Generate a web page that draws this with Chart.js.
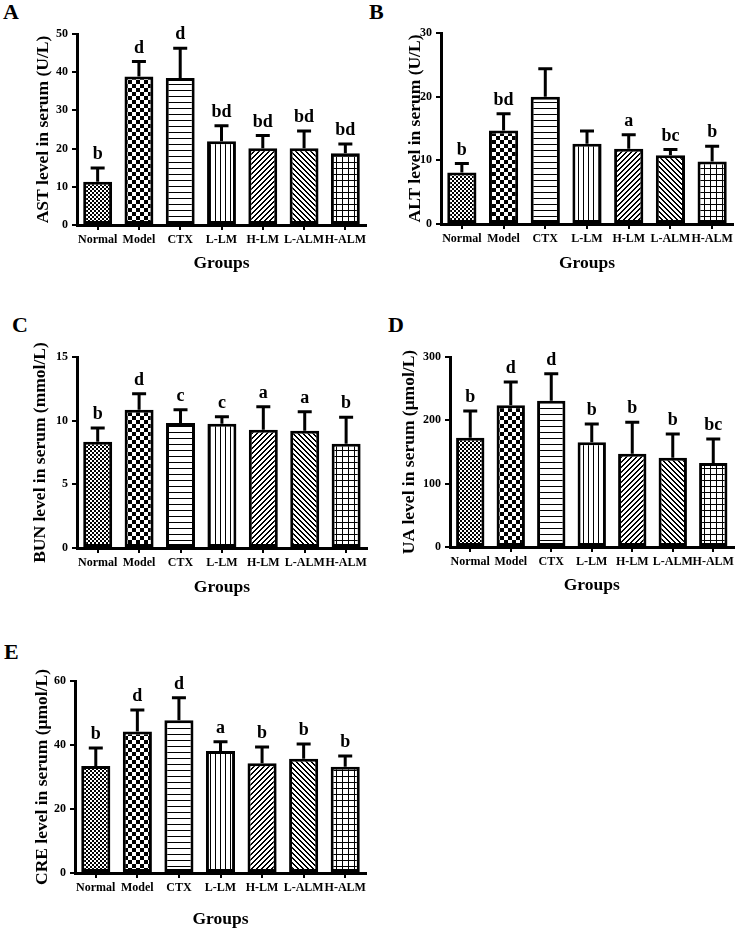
<!DOCTYPE html>
<html>
<head>
<meta charset="utf-8">
<script src="https://cdn.jsdelivr.net/npm/chart.js@4.4.0/dist/chart.umd.min.js"></script>
<style>
  body { margin: 0; background: #fff; }
  #page { position: relative; width: 737px; height: 930px; overflow: hidden; }
  #page canvas { position: absolute; }
  .tag { position: absolute; font: bold 22px "Liberation Serif", "Times New Roman", serif; line-height: 22px; color: #000; }
</style>
</head>
<body>
<div id="page">
  <div class="tag" style="left:3px;top:1px">A</div>
  <div class="tag" style="left:369px;top:1px">B</div>
  <div class="tag" style="left:12px;top:314px">C</div>
  <div class="tag" style="left:388px;top:314px">D</div>
  <div class="tag" style="left:4px;top:641px">E</div>
</div>
<script>
const groups = ['Normal', 'Model', 'CTX', 'L-LM', 'H-LM', 'L-ALM', 'H-ALM'];

// A - AST
const astMean = [11.3, 38.9, 38.5, 21.9, 20.1, 20.1, 18.8];
const astSD = [3.6, 3.9, 7.8, 4.1, 3.3, 4.5, 2.4];
const astLetters = ['b', 'd', 'd', 'bd', 'bd', 'bd', 'bd'];

// B - ALT
const altMean = [8.1, 14.7, 20.0, 12.6, 11.8, 10.8, 9.8];
const altSD = [1.4, 2.6, 4.4, 2.0, 2.2, 0.9, 2.4];
const altLetters = ['b', 'bd', '', '', 'a', 'bc', 'b'];

// C - BUN
const bunMean = [8.35, 10.86, 9.82, 9.76, 9.29, 9.21, 8.19];
const bunSD = [1.07, 1.26, 1.04, 0.55, 1.81, 1.49, 2.07];
const bunLetters = ['b', 'd', 'c', 'c', 'a', 'a', 'b'];

// D - UA
const uaMean = [172.6, 223.7, 231, 165.3, 147.4, 141, 132.6];
const uaSD = [42.1, 36.8, 42.7, 28.9, 49.4, 37.4, 37.9];
const uaLetters = ['b', 'd', 'd', 'b', 'b', 'b', 'bc'];

// E - CRE
const creMean = [33.4, 44.2, 47.7, 38.1, 34.3, 35.7, 33.2];
const creSD = [5.7, 6.7, 7.1, 2.9, 5.1, 4.6, 3.4];
const creLetters = ['b', 'd', 'd', 'a', 'b', 'b', 'b'];

const serif = '"Liberation Serif", "Times New Roman", serif';
Chart.defaults.color = '#000';

// panels: data + where each one sits on the page
const panels = [
  { title: 'AST level in serum (U/L)', mean: astMean, sd: astSD, letters: astLetters, max: 50, step: 10,
    box: [0, 0, 370, 280], area: { left: 77, right: 366, top: 34, bottom: 225 }, titleX: 43.5, groupsY: 263 },
  { title: 'ALT level in serum (U/L)', mean: altMean, sd: altSD, letters: altLetters, max: 30, step: 10,
    box: [368, 0, 369, 280], area: { left: 73, right: 365, top: 33, bottom: 224 }, titleX: 47.5, groupsY: 263 },
  { title: 'BUN level in serum (mmol/L)', mean: bunMean, sd: bunSD, letters: bunLetters, max: 15, step: 5,
    box: [0, 300, 370, 310], area: { left: 77, right: 367, top: 57, bottom: 248 }, titleX: 40.5, groupsY: 287 },
  { title: 'UA level in serum (\u03bcmol/L)', mean: uaMean, sd: uaSD, letters: uaLetters, max: 300, step: 100,
    box: [368, 300, 369, 310], area: { left: 82, right: 368, top: 57, bottom: 247 }, titleX: 41.5, groupsY: 285 },
  { title: 'CRE level in serum (\u03bcmol/L)', mean: creMean, sd: creSD, letters: creLetters, max: 60, step: 20,
    box: [0, 620, 370, 310], area: { left: 75, right: 366, top: 61, bottom: 253 }, titleX: 42.5, groupsY: 300 }
];

// small pattern tiles, one per group
function tile(w, h, draw) {
  const c = document.createElement('canvas');
  c.width = w; c.height = h;
  const g = c.getContext('2d');
  g.fillStyle = '#fff';
  g.fillRect(0, 0, w, h);
  g.fillStyle = '#000';
  draw(g);
  return c;
}
function diag(size, thick, up) {
  return tile(size, size, g => {
    for (let i = 0; i < size; i++) {
      for (let k = 0; k < thick; k++) {
        const y = up ? (size - 1 - i + k) % size : (i + k) % size;
        g.fillRect(i, y, 1, 1);
      }
    }
  });
}
function makePatterns(ctx) {
  const tiles = [
    tile(4, 4, g => { g.fillRect(0, 0, 2, 2); g.fillRect(2, 2, 2, 2); }),
    tile(8, 8, g => { g.fillRect(0, 0, 4, 4); g.fillRect(4, 4, 4, 4); }),
    tile(1, 6, g => { g.fillRect(0, 0, 1, 1); }),
    tile(5, 1, g => { g.fillRect(0, 0, 1, 1); }),
    diag(5, 2, true),
    diag(5, 2, false),
    tile(6, 6, g => { g.fillRect(0, 0, 6, 1); g.fillRect(0, 0, 1, 6); })
  ];
  return tiles.map(t => ctx.createPattern(t, 'repeat'));
}

// error bars (upper half) and significance letters
const errorBars = {
  id: 'errorBars',
  afterDatasetsDraw(chart) {
    const { ctx, scales: { y } } = chart;
    const ds = chart.data.datasets[0];
    const meta = chart.getDatasetMeta(0);
    ctx.save();
    ctx.strokeStyle = '#000';
    ctx.fillStyle = '#000';
    ctx.lineWidth = 3;
    ctx.font = 'bold 18px ' + serif;
    ctx.textAlign = 'center';
    ctx.textBaseline = 'alphabetic';
    meta.data.forEach((bar, i) => {
      const top = y.getPixelForValue(ds.data[i] + ds.errors[i]);
      ctx.beginPath();
      ctx.moveTo(bar.x, bar.y);
      ctx.lineTo(bar.x, top);
      ctx.moveTo(bar.x - 7, top);
      ctx.lineTo(bar.x + 7, top);
      ctx.stroke();
      if (ds.marks[i]) ctx.fillText(ds.marks[i], bar.x, top - 9);
    });
    ctx.restore();
  }
};

const page = document.getElementById('page');
const tickFont = { family: serif, size: 12, weight: 'bold' };
const titleFont = { family: serif, size: 17.5, weight: 'bold' };

panels.forEach(p => {
  const [bx, by, W, H] = p.box;
  const a = p.area;
  const canvas = document.createElement('canvas');
  canvas.width = W;
  canvas.height = H;
  canvas.style.left = bx + 'px';
  canvas.style.top = by + 'px';
  page.appendChild(canvas);
  const patterns = makePatterns(canvas.getContext('2d'));
  const lh = titleFont.size * 1.2;

  new Chart(canvas, {
    type: 'bar',
    data: {
      labels: groups,
      datasets: [{
        data: p.mean,
        errors: p.sd,
        marks: p.letters,
        backgroundColor: patterns,
        borderColor: '#000',
        borderWidth: 3,
        borderSkipped: false,
        barPercentage: 0.7,
        categoryPercentage: 1
      }]
    },
    options: {
      responsive: false,
      animation: false,
      devicePixelRatio: 1,
      layout: { padding: { left: 0, right: W - a.right, top: a.top, bottom: 0 } },
      plugins: { legend: { display: false }, tooltip: { enabled: false } },
      scales: {
        x: {
          offset: true,
          grid: { offset: false, drawOnChartArea: false, tickLength: 5, lineWidth: 2, color: '#000' },
          border: { display: true, color: '#000', width: 3 },
          ticks: { font: tickFont, color: '#000', autoSkip: false, maxRotation: 0, minRotation: 0, padding: 3 },
          title: { display: true, text: 'Groups', font: titleFont, color: '#000',
                   padding: { top: 0, bottom: Math.max(0, H - lh / 2 - p.groupsY) } },
          afterFit: s => { s.height = H - a.bottom; }
        },
        y: {
          min: 0,
          max: p.max,
          ticks: { stepSize: p.step, font: tickFont, color: '#000', padding: 4 },
          grid: { drawOnChartArea: false, tickLength: 5, lineWidth: 2, color: '#000' },
          border: { display: true, color: '#000', width: 3 },
          title: { display: true, text: p.title, font: titleFont, color: '#000',
                   padding: { top: p.titleX - lh / 2, bottom: 0 } },
          afterFit: s => { s.width = a.left; }
        }
      }
    },
    plugins: [errorBars]
  });
});
</script>
</body>
</html>
